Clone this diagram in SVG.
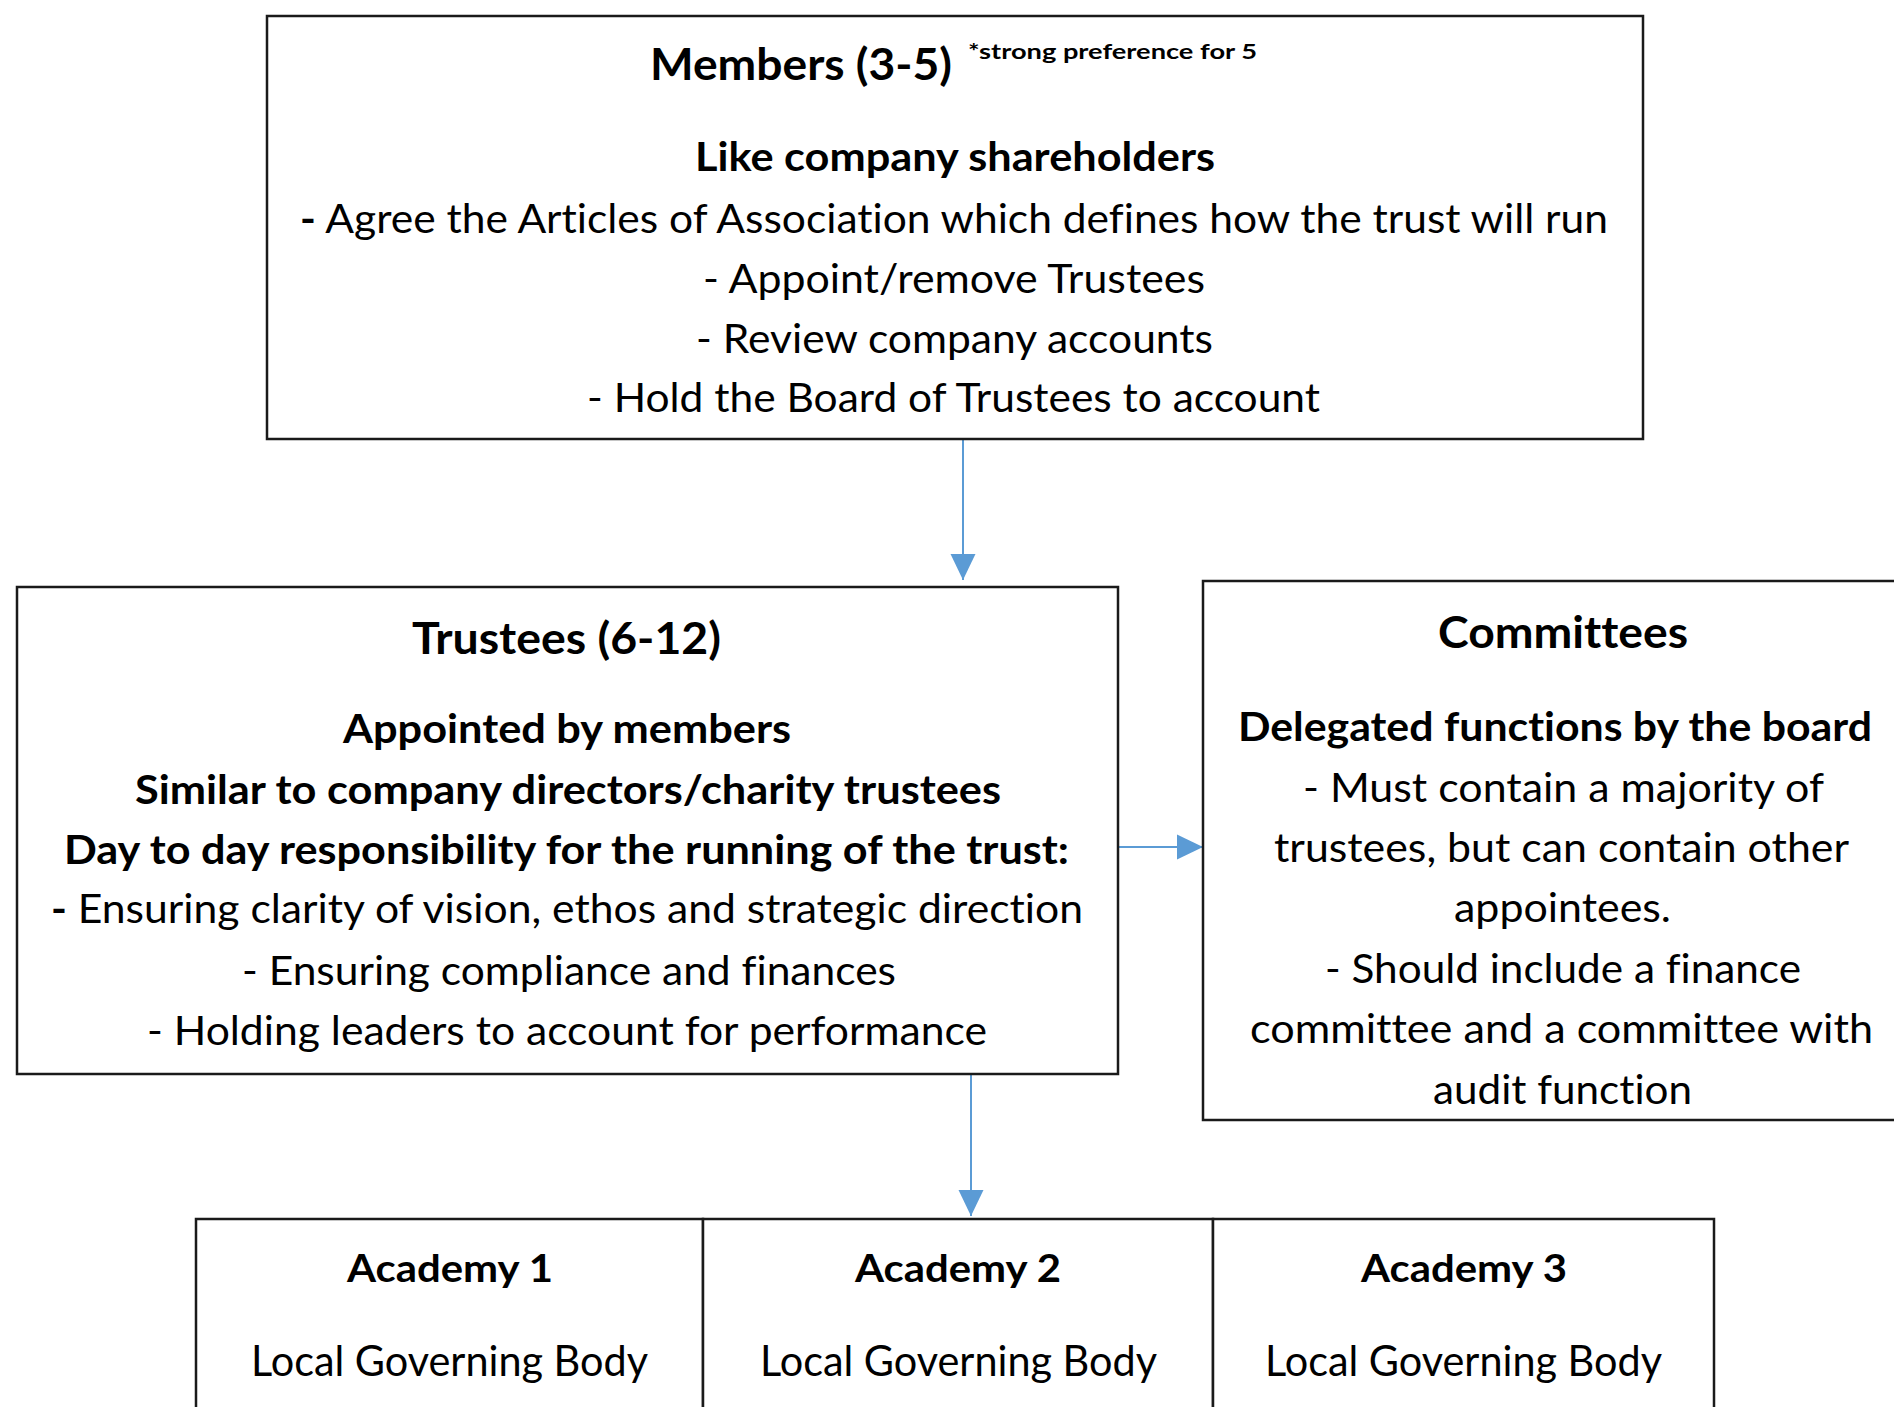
<svg xmlns="http://www.w3.org/2000/svg" width="1894" height="1407" viewBox="0 0 1894 1407">
<style>
.box{fill:#fff;stroke:#1a1a1a;stroke-width:2.5}
.conn{stroke:#5B9BD5;stroke-width:2;fill:none}
text{font-family:Lato,"Liberation Sans",sans-serif;fill:#000;font-variant-ligatures:none}
.b{font-weight:700}
.r{font-weight:400}
.t{font-size:44px}
.n{font-size:40.5px}
.s{font-size:21px}
.a{font-size:38px}
.l{font-size:42px}
</style>
<defs>
<marker id="ah" markerUnits="userSpaceOnUse" markerWidth="26" markerHeight="26" viewBox="0 0 25 24" refX="25" refY="12" orient="auto">
<path d="M0,0 L25,12 L0,24 Z" fill="#5B9BD5"/>
</marker>
</defs>
<rect width="1894" height="1407" fill="#fff"/>

<g id="connectors">
<line class="conn" x1="963" y1="440" x2="963" y2="580" marker-end="url(#ah)"/>
<line class="conn" x1="1119" y1="847" x2="1203" y2="847" marker-end="url(#ah)"/>
<line class="conn" x1="971" y1="1075" x2="971" y2="1216" marker-end="url(#ah)"/>
</g>

<g id="members">
<rect class="box" x="267" y="16" width="1376" height="423"/>
<text class="b t" x="650" y="80" textLength="302" lengthAdjust="spacingAndGlyphs">Members (3-5)</text>
<text class="b s" x="968" y="59" textLength="289" lengthAdjust="spacingAndGlyphs">*strong preference for 5</text>
<text class="b n" x="695" y="171" textLength="520" lengthAdjust="spacingAndGlyphs">Like company shareholders</text>
<text class="r n" x="300" y="233" textLength="1308" lengthAdjust="spacingAndGlyphs"><tspan class="b">-</tspan> Agree the Articles of Association which defines how the trust will run</text>
<text class="r n" x="703" y="293" textLength="502" lengthAdjust="spacingAndGlyphs">- Appoint/remove Trustees</text>
<text class="r n" x="696" y="353" textLength="517" lengthAdjust="spacingAndGlyphs">- Review company accounts</text>
<text class="r n" x="587" y="412" textLength="733" lengthAdjust="spacingAndGlyphs">- Hold the Board of Trustees to account</text>
</g>

<g id="trustees">
<rect class="box" x="17" y="587" width="1101" height="487"/>
<text class="b t" x="412" y="654" textLength="309" lengthAdjust="spacingAndGlyphs">Trustees (6-12)</text>
<text class="b n" x="343" y="743" textLength="448" lengthAdjust="spacingAndGlyphs">Appointed by members</text>
<text class="b n" x="135" y="804" textLength="866" lengthAdjust="spacingAndGlyphs">Similar to company directors/charity trustees</text>
<text class="b n" x="64" y="864" textLength="1005" lengthAdjust="spacingAndGlyphs">Day to day responsibility for the running of the trust:</text>
<text class="r n" x="51" y="923" textLength="1032" lengthAdjust="spacingAndGlyphs"><tspan class="b">-</tspan> Ensuring clarity of vision, ethos and strategic direction</text>
<text class="r n" x="242" y="985" textLength="654" lengthAdjust="spacingAndGlyphs">- Ensuring compliance and finances</text>
<text class="r n" x="147" y="1045" textLength="840" lengthAdjust="spacingAndGlyphs">- Holding leaders to account for performance</text>
</g>

<g id="committees">
<rect class="box" x="1203" y="581" width="720" height="539"/>
<text class="b t" x="1438" y="648" textLength="250" lengthAdjust="spacingAndGlyphs">Committees</text>
<text class="b n" x="1238" y="741" textLength="634" lengthAdjust="spacingAndGlyphs">Delegated functions by the board</text>
<text class="r n" x="1303" y="802" textLength="521" lengthAdjust="spacingAndGlyphs">- Must contain a majority of</text>
<text class="r n" x="1274" y="862" textLength="575" lengthAdjust="spacingAndGlyphs">trustees, but can contain other</text>
<text class="r n" x="1454" y="922" textLength="217" lengthAdjust="spacingAndGlyphs">appointees.</text>
<text class="r n" x="1325" y="983" textLength="476" lengthAdjust="spacingAndGlyphs">- Should include a finance</text>
<text class="r n" x="1250" y="1043" textLength="623" lengthAdjust="spacingAndGlyphs">committee and a committee with</text>
<text class="r n" x="1433" y="1104" textLength="259" lengthAdjust="spacingAndGlyphs">audit function</text>
</g>

<g id="academy1">
<rect class="box" x="196" y="1219" width="507" height="220"/>
<text class="b a" x="347" y="1282" textLength="206" lengthAdjust="spacingAndGlyphs">Academy 1</text>
<text class="r l" x="251" y="1376" textLength="397" lengthAdjust="spacingAndGlyphs">Local Governing Body</text>
</g>
<g id="academy2">
<rect class="box" x="703" y="1219" width="510" height="220"/>
<text class="b a" x="855" y="1282" textLength="206" lengthAdjust="spacingAndGlyphs">Academy 2</text>
<text class="r l" x="760" y="1376" textLength="397" lengthAdjust="spacingAndGlyphs">Local Governing Body</text>
</g>
<g id="academy3">
<rect class="box" x="1213" y="1219" width="501" height="220"/>
<text class="b a" x="1361" y="1282" textLength="206" lengthAdjust="spacingAndGlyphs">Academy 3</text>
<text class="r l" x="1265" y="1376" textLength="397" lengthAdjust="spacingAndGlyphs">Local Governing Body</text>
</g>
</svg>
